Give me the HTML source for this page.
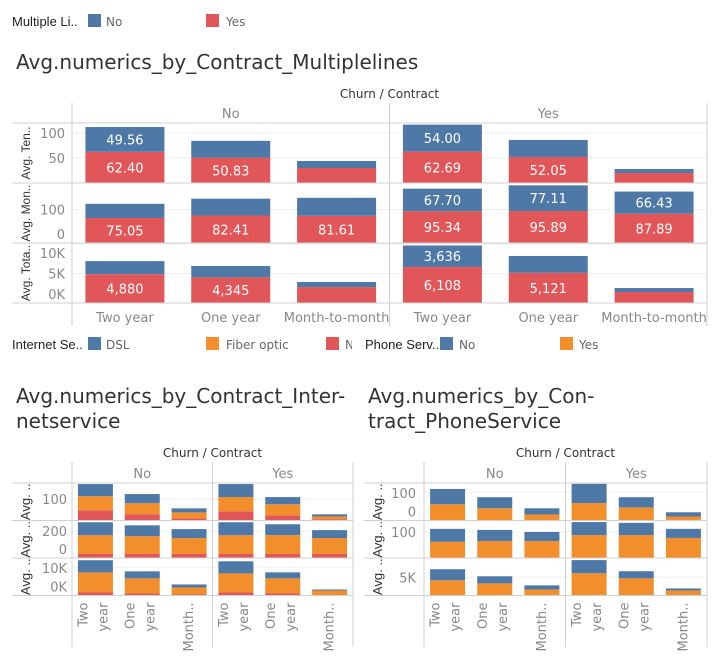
<!DOCTYPE html>
<html><head><meta charset="utf-8"><style>
body{margin:0;background:#fff;width:719px;height:659px;overflow:hidden;font-family:"Liberation Sans","DejaVu Sans",sans-serif}
svg text{font-family:"DejaVu Sans","Liberation Sans",sans-serif}
svg text.lib{font-family:"Liberation Sans","DejaVu Sans",sans-serif}
</style></head><body>
<svg id="dash" width="719" height="659" viewBox="0 0 719 659" xmlns="http://www.w3.org/2000/svg">
<g font-size="12">
<text class="lib" x="12" y="26" fill="#222" font-size="13">Multiple Li..</text>
<rect x="88" y="14" width="13" height="13" fill="#4e79a7"/>
<text x="106" y="26" fill="#666">No</text>
<rect x="206" y="14" width="13" height="13" fill="#e15759"/>
<text x="226" y="26" fill="#666">Yes</text>
</g>
<text x="16" y="69" font-size="20" fill="#333">Avg.numerics_by_Contract_Multiplelines</text>
<g font-size="12">
<text class="lib" x="12" y="349" fill="#222" font-size="13">Internet Se..</text>
<rect x="88" y="337" width="13" height="13" fill="#4e79a7"/>
<text x="106" y="349" fill="#666">DSL</text>
<rect x="206" y="337" width="13" height="13" fill="#f28e2b"/>
<text x="226" y="349" fill="#666">Fiber optic</text>
<rect x="326" y="337" width="13" height="13" fill="#e15759"/>
<text x="345" y="349" fill="#666">N</text>
<rect x="352" y="334" width="12" height="20" fill="#fff"/>
<text class="lib" x="365" y="349" fill="#222" font-size="13">Phone Serv..</text>
<rect x="440" y="337" width="13" height="13" fill="#4e79a7"/>
<text x="459" y="349" fill="#666">No</text>
<rect x="560" y="337" width="13" height="13" fill="#f28e2b"/>
<text x="579" y="349" fill="#666">Yes</text>
</g>
<text x="16" y="403" font-size="20" fill="#333"><tspan x="16">Avg.numerics_by_Contract_Inter-</tspan><tspan x="16" dy="25">netservice</tspan></text>
<text x="368" y="403" font-size="20" fill="#333"><tspan x="368">Avg.numerics_by_Con-</tspan><tspan x="368" dy="25">tract_PhoneService</tspan></text>
</svg>
<script>
// ---- shared categories ----
const churnGroups = ["No", "Yes"];
const contracts = ["Two year", "One year", "Month-to-month"];
const shortContracts = [["Two", "year"], ["One", "year"], ["Month.."]];
// ---- Chart 1: Multiple lines (order: No-Two, No-One, No-M2M, Yes-Two, Yes-One, Yes-M2M) ----
const mlTenureYes = [62.40, 50.83, 30, 62.69, 52.05, 20];
const mlTenureNo = [49.56, 33.5, 14, 54.00, 34, 8];
const mlMonthlyYes = [75.05, 82.41, 81.61, 95.34, 95.89, 87.89];
const mlMonthlyNo = [42.5, 50.5, 54, 67.70, 77.11, 66.43];
const mlTotalYes = [4880, 4345, 2700, 6108, 5121, 1860];
const mlTotalNo = [2220, 1925, 860, 3636, 2850, 680];
const mlTenureTicks = [50, 100];
const mlMonthlyTicks = [0, 100];
const mlTotalTicks = [0, 5000, 10000];
const mlTotalTickLabels = ["0K", "5K", "10K"];
// ---- Chart 2: Internet service ----
const isTenureNoInt = [48, 29, 10, 43, 24, 5];
const isTenureFiber = [66, 52, 28, 67, 52, 14];
const isTenureDSL = [57, 43, 19, 61, 34, 10];
const isMonthlyNoInt = [30, 30, 30, 30, 30, 30];
const isMonthlyFiber = [140, 133, 119, 140, 141, 119];
const isMonthlyDSL = [97, 81, 67, 97, 81, 59];
const isTotalNoInt = [1070, 700, 350, 1070, 700, 50];
const isTotalFiber = [7130, 5370, 2500, 6770, 5370, 1740];
const isTotalDSL = [4300, 2500, 1070, 4290, 2140, 350];
const isTenureTicks = [100];
const isMonthlyTicks = [0, 200];
const isTotalTicks = [0, 10000];
const isTotalTickLabels = ["0K", "10K"];
// ---- Chart 3: Phone service ----
const psTenureYes = [57, 43, 21, 61, 46, 14];
const psTenureNo = [54, 39, 22, 68, 36, 15];
const psMonthlyYes = [62, 65, 65, 88, 88, 77];
const psMonthlyNo = [50, 43, 35, 50, 47, 35];
const psTotalYes = [4170, 3330, 1670, 6110, 4720, 1390];
const psTotalNo = [3050, 1950, 1110, 3610, 1950, 550];
const psTenureTicks = [0, 100];
const psMonthlyTicks = [100];
const psTotalTicks = [5000];
const psTotalTickLabels = ["5K"];

const NS = "http://www.w3.org/2000/svg";
const svg = document.getElementById("dash");
const COLORS = {blue: "#4e79a7", red: "#e15759", orange: "#f28e2b"};
function mk(tag, attrs, parent) {
  const e = document.createElementNS(NS, tag);
  for (const k in attrs) e.setAttribute(k, attrs[k]);
  parent.appendChild(e);
  return e;
}
function fmt(v, kind) {
  if (kind === "int") return Math.round(v).toLocaleString("en-US");
  return v.toFixed(2);
}
function drawChart(cfg) {
  const g = mk("g", {}, svg);
  
  
  const L = cfg.left, R = cfg.right, colW = (R - L) / 2, cellW = colW / 3;
  const rowH = cfg.rowH, top0 = cfg.headerLine;
  const bottom = top0 + rowH * cfg.rows.length;
  const ht = mk("text", {x: (L + R) / 2, y: cfg.titleY, "text-anchor": "middle", "font-size": 12, fill: "#333"}, g);
  ht.textContent = "Churn / Contract";
  
  
  churnGroups.forEach((c, ci) => {
    const t = mk("text", {x: L + colW * ci + colW / 2, y: cfg.churnY, "text-anchor": "middle", "font-size": 13, fill: "#888"}, g);
    t.textContent = c;
    
    
  });
  cfg.rows.forEach((row, ri) => {
    const rt = top0 + ri * rowH, rb = rt + rowH;
    const y = v => rb - v / row.max * rowH;
    row.ticks.forEach((tv, ti) => {
      const gy = y(tv);
      if (tv > 0) {
        const gl = mk("line", {x1: L, x2: R, y1: gy, y2: gy, stroke: "#efefef", "stroke-width": 1}, g);
        
        
      }
      const ly = Math.max(rt + 10, Math.min(rb - 9, gy));
      const tl = mk("text", {x: cfg.tickX, y: ly + 5, "text-anchor": "end", "font-size": 13, fill: "#888"}, g);
      tl.textContent = row.tickLabels ? row.tickLabels[ti] : String(tv);
      
      
    });
    const rtt = mk("text", {"class": "lib", transform: `translate(${cfg.rowTitleX},${(rt + rb) / 2}) rotate(-90)`, "text-anchor": "middle", "font-size": cfg.rowTitleSize, fill: "#333"}, g);
    rtt.textContent = row.title;
    
    
    for (let i = 0; i < 6; i++) {
      const ci = Math.floor(i / 3), k = i % 3;
      const cx = L + ci * colW + k * cellW + cellW / 2;
      let acc = 0;
      row.series.forEach(s => {
        const v = s.values[i];
        const y1 = y(acc), y2 = y(acc + v);
        const r = mk("rect", {x: cx - cfg.barW / 2, y: y2, width: cfg.barW, height: Math.max(0, y1 - y2), fill: s.color}, g);
        
        
        if (cfg.labels && (y1 - y2) >= 20) {
          const lt = mk("text", {x: cx, y: (y1 + y2) / 2 + 5, "text-anchor": "middle", "font-size": 13, fill: "#fff"}, g);
          lt.textContent = fmt(v, row.fmt);
          
          
        }
        acc += v;
      });
    }
  });
  const lc = "#d0d0d0";
  const hl = [top0];
  cfg.rows.forEach((r, ri) => hl.push(top0 + rowH * (ri + 1)));
  hl.forEach(hy => mk("line", {x1: cfg.lineLeft, x2: R, y1: hy, y2: hy, stroke: lc}, g));
  [L, L + colW, R].forEach(vx => mk("line", {x1: vx, x2: vx, y1: cfg.vTop, y2: cfg.vBottom, stroke: lc}, g));
  for (let i = 0; i < 6; i++) {
    const ci = Math.floor(i / 3), k = i % 3;
    const cx = L + ci * colW + k * cellW + cellW / 2;
    if (cfg.rotated) {
      const parts = shortContracts[k];
      parts.forEach((p, pi) => {
        const ox = parts.length === 2 ? (pi === 0 ? -8 : 12) : 4;
        const t = mk("text", {transform: `translate(${cx + ox},${bottom + 7}) rotate(-90)`, "text-anchor": "end", "font-size": 13, fill: "#888"}, g);
        t.textContent = p;
        
        
      });
    } else {
      const t = mk("text", {x: cx, y: bottom + 19, "text-anchor": "middle", "font-size": 13, fill: "#888"}, g);
      t.textContent = contracts[k];
      
      
    }
  }
}
drawChart({name: "multiplelines-chart", left: 72, right: 707, headerLine: 123, rowH: 60, titleY: 98, churnY: 118,
  tickX: 65, rowTitleX: 30, rowTitleSize: 12, barW: 79, labels: true, rotated: false, lineLeft: 12, vTop: 103, vBottom: 326,
  rows: [
    {title: "Avg. Ten..", max: 120, ticks: mlTenureTicks, fmt: "dec", series: [{values: mlTenureYes, color: COLORS.red}, {values: mlTenureNo, color: COLORS.blue}]},
    {title: "Avg. Mon..", max: 180, ticks: mlMonthlyTicks, fmt: "dec", series: [{values: mlMonthlyYes, color: COLORS.red}, {values: mlMonthlyNo, color: COLORS.blue}]},
    {title: "Avg. Tota..", max: 10170, ticks: mlTotalTicks, tickLabels: mlTotalTickLabels, fmt: "int", series: [{values: mlTotalYes, color: COLORS.red}, {values: mlTotalNo, color: COLORS.blue}]}
  ]});
drawChart({name: "internetservice-chart", left: 72, right: 353, headerLine: 483, rowH: 37.5, titleY: 457, churnY: 478,
  tickX: 67, rowTitleX: 30, rowTitleSize: 13, barW: 35, labels: false, rotated: true, lineLeft: 12, vTop: 462, vBottom: 647,
  rows: [
    {title: "Avg. ..", max: 176, ticks: isTenureTicks, series: [{values: isTenureNoInt, color: COLORS.red}, {values: isTenureFiber, color: COLORS.orange}, {values: isTenureDSL, color: COLORS.blue}]},
    {title: "Avg. ..", max: 280, ticks: isMonthlyTicks, series: [{values: isMonthlyNoInt, color: COLORS.red}, {values: isMonthlyFiber, color: COLORS.orange}, {values: isMonthlyDSL, color: COLORS.blue}]},
    {title: "Avg. ..", max: 13300, ticks: isTotalTicks, tickLabels: isTotalTickLabels, series: [{values: isTotalNoInt, color: COLORS.red}, {values: isTotalFiber, color: COLORS.orange}, {values: isTotalDSL, color: COLORS.blue}]}
  ]});
drawChart({name: "phoneservice-chart", left: 424, right: 707, headerLine: 483, rowH: 37.5, titleY: 457, churnY: 478,
  tickX: 416, rowTitleX: 382, rowTitleSize: 13, barW: 35, labels: false, rotated: true, lineLeft: 364, vTop: 462, vBottom: 647,
  rows: [
    {title: "Avg. ..", max: 132, ticks: psTenureTicks, series: [{values: psTenureYes, color: COLORS.orange}, {values: psTenureNo, color: COLORS.blue}]},
    {title: "Avg. ..", max: 144, ticks: psMonthlyTicks, series: [{values: psMonthlyYes, color: COLORS.orange}, {values: psMonthlyNo, color: COLORS.blue}]},
    {title: "Avg. ..", max: 10300, ticks: psTotalTicks, tickLabels: psTotalTickLabels, series: [{values: psTotalYes, color: COLORS.orange}, {values: psTotalNo, color: COLORS.blue}]}
  ]});
</script>
</body></html>
